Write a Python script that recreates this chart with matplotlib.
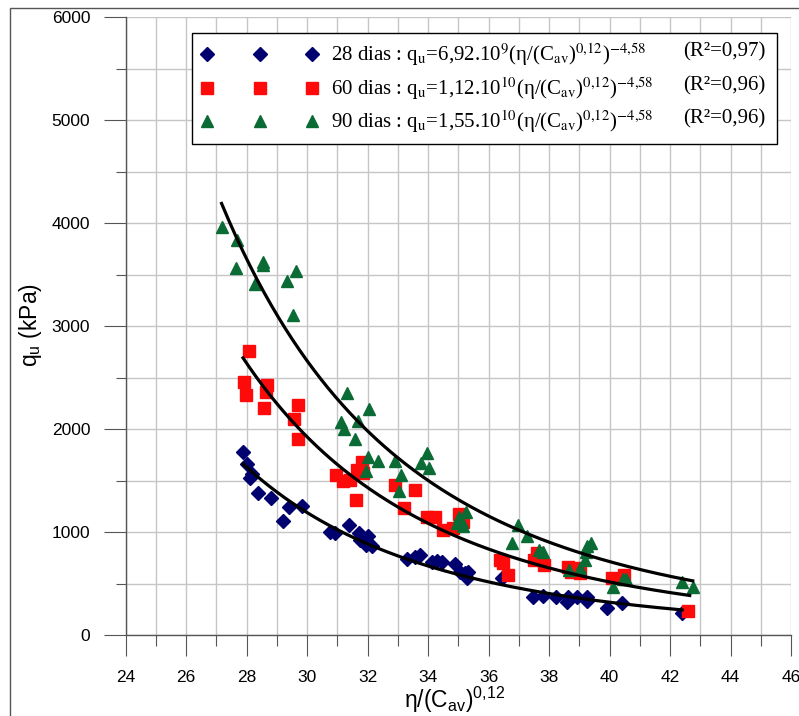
import numpy as np
import matplotlib
matplotlib.use("Agg")
import matplotlib.pyplot as plt
from matplotlib.patches import Rectangle
from matplotlib.ticker import MultipleLocator

# -----------------------------------------------------------------------------
# Data: unconfined compressive strength vs porosity/cement index
# -----------------------------------------------------------------------------

X_28 = [27.87, 28.02, 28.11, 28.16, 28.38, 28.79, 29.21, 29.41, 29.82, 30.75,
        30.92, 31.39, 31.72, 31.75, 31.96, 32.02, 32.13, 33.31, 33.56, 33.73,
        34.12, 34.28, 34.45, 34.89, 35.05, 35.22, 35.27, 35.33, 36.43, 37.47,
        37.80, 38.22, 38.58, 38.63, 38.91, 39.26, 39.26, 39.92, 40.40, 42.38]
Q_28 = [1780, 1660, 1521, 1563, 1376, 1333, 1110, 1246, 1250, 1003,
        990, 1068, 995, 922, 874, 961, 864, 738, 754, 777,
        712, 718, 706, 689, 615, 599, 550, 615, 550, 366,
        380, 366, 324, 366, 372, 372, 333, 259, 314, 217]

X_60 = [27.91, 27.98, 28.09, 28.57, 28.64, 28.66, 29.56, 29.69, 29.71, 30.97,
        31.19, 31.42, 31.61, 31.64, 31.80, 31.85, 32.90, 33.20, 33.56, 33.95,
        34.22, 34.50, 34.83, 35.03, 35.16, 36.37, 36.48, 36.65, 37.50, 37.59,
        37.83, 38.63, 38.74, 38.93, 39.02, 40.07, 40.47, 42.60]
Q_60 = [2453, 2330, 2760, 2207, 2362, 2427, 2094, 1900, 2233, 1553,
        1498, 1505, 1311, 1602, 1683, 1570, 1456, 1230, 1408, 1149,
        1149, 1019, 1036, 1172, 1100, 728, 696, 583, 728, 793,
        680, 663, 615, 647, 599, 550, 583, 236]

X_90 = [27.17, 27.65, 27.67, 28.27, 28.53, 28.55, 29.34, 29.52, 29.62, 31.11,
        31.23, 31.33, 31.59, 31.69, 31.96, 32.00, 32.05, 32.35, 32.90, 33.04,
        33.09, 33.76, 33.97, 34.03, 34.94, 35.03, 35.13, 35.15, 35.25, 36.76,
        36.98, 37.28, 37.67, 37.80, 38.67, 39.02, 39.18, 39.21, 39.27, 39.38,
        40.10, 40.45, 40.56, 42.41, 42.76]
Q_90 = [3960, 3560, 3835, 3410, 3590, 3620, 3440, 3107, 3537, 2071,
        2000, 2352, 1900, 2081, 1595, 1725, 2194, 1692, 1692, 1398,
        1553, 1667, 1764, 1618, 1084, 1149, 1100, 1061, 1191, 896,
        1068, 964, 825, 805, 631, 647, 728, 809, 867, 890,
        463, 544, 544, 518, 469]

# fitted power laws q_u = A * (eta/Cav^0.12)^B, with the fit range of each
FIT_A = [6.92e9, 1.12e10, 1.55e10]
FIT_B = -4.58
FIT_RANGE = [(27.88, 42.40), (27.88, 42.65), (27.17, 42.75)]
R2 = ["0,97", "0,96", "0,96"]
LABELS = [
    r"28 dias : q$_\mathrm{u}$=6,92.10$^\mathrm{9}$(η/(C$_\mathrm{av}$)$^\mathrm{0{,}12}$)$^\mathrm{-4{,}58}$",
    r"60 dias : q$_\mathrm{u}$=1,12.10$^\mathrm{10}$(η/(C$_\mathrm{av}$)$^\mathrm{0{,}12}$)$^\mathrm{-4{,}58}$",
    r"90 dias : q$_\mathrm{u}$=1,55.10$^\mathrm{10}$(η/(C$_\mathrm{av}$)$^\mathrm{0{,}12}$)$^\mathrm{-4{,}58}$",
]

# -----------------------------------------------------------------------------
# Style
# -----------------------------------------------------------------------------

plt.rcParams["font.family"] = "Liberation Sans"
plt.rcParams["mathtext.fontset"] = "custom"
plt.rcParams["mathtext.rm"] = "Liberation Sans"
plt.rcParams["mathtext.it"] = "Liberation Sans:italic"

NAVY = "#00006e"
RED = "#ff0a0a"
GREEN = "#0a6b35"
GRID = "#c6c6c6"
AXIS = "#555555"

W, H = 799, 716

# -----------------------------------------------------------------------------
# Chart
# -----------------------------------------------------------------------------

fig = plt.figure(figsize=(W / 100, H / 100), dpi=100)
ax = fig.add_axes([125.7 / W, 1 - 635 / H, (791 - 125.7) / W, (635 - 17) / H])

h28, = ax.plot(X_28, Q_28, ls="none", marker="D", ms=7, color=NAVY, mec=NAVY)
h60, = ax.plot(X_60, Q_60, ls="none", marker="s", ms=8.5, color=RED, mec=RED)
h90, = ax.plot(X_90, Q_90, ls="none", marker="^", ms=9, color=GREEN, mec=GREEN)

for a, (x0, x1) in zip(FIT_A, FIT_RANGE):
    xs = np.linspace(x0, x1, 200)
    ax.plot(xs, a * xs ** FIT_B, color="black", lw=2.3, zorder=4)

ax.set_xlim(24, 46)
ax.set_ylim(0, 6000)
ax.xaxis.set_major_locator(MultipleLocator(2))
ax.xaxis.set_minor_locator(MultipleLocator(1))
ax.yaxis.set_major_locator(MultipleLocator(1000))
ax.yaxis.set_minor_locator(MultipleLocator(500))

ax.grid(which="both", color=GRID, lw=1.0)
ax.set_axisbelow(True)
for side in ["top", "right"]:
    ax.spines[side].set_visible(False)
for side in ["left", "bottom"]:
    ax.spines[side].set_color(AXIS)
    ax.spines[side].set_linewidth(1.0)

ax.tick_params(axis="y", which="major", length=16, width=0.8, color=AXIS, pad=9.5, labelsize=12.5)
ax.tick_params(axis="y", which="minor", length=7.5, width=0.8, color=AXIS)
ax.tick_params(axis="x", which="major", length=15, width=0.8, color=AXIS, pad=10.5, labelsize=12.5)
ax.tick_params(axis="x", which="minor", length=8, width=0.8, color=AXIS)

fig.text(31 / W, 1 - 325 / H, r"q$_\mathrm{u}$ (kPa)", rotation=90, ha="center", va="center", fontsize=16.5)
fig.text(455 / W, 1 - 700 / H, r"η/(C$_\mathrm{av}$)$^\mathrm{0{,}12}$", ha="center", va="center", fontsize=16.5)

leg = ax.legend([h28, h60, h90], LABELS, loc="upper left",
                bbox_to_anchor=(192 / W, 1 - 140 / H, (777 - 192) / W, (140 - 33) / H),
                bbox_transform=fig.transFigure, mode="expand", borderaxespad=0,
                numpoints=3, handlelength=5.65, handletextpad=0.6, borderpad=0.42,
                labelspacing=0.32, fancybox=False, framealpha=1, edgecolor="black",
                prop={"family": "Liberation Serif", "size": 15})
leg.get_frame().set_linewidth(1.0)
for t in leg.get_texts():
    t.set_math_fontfamily("stix")

for r2, row_y in zip(R2, [52, 86, 119]):
    fig.text(765 / W, 1 - row_y / H, f"(R²={r2})", ha="right", va="center",
             family="Liberation Serif", fontsize=15)

# frame around the whole chart
fig.add_artist(Rectangle((10 / W, -0.1), 1.2, 1.1 - 8 / H, transform=fig.transFigure,
                         fill=False, edgecolor=AXIS, lw=1.0))

fig.savefig("out.png", dpi=100)
